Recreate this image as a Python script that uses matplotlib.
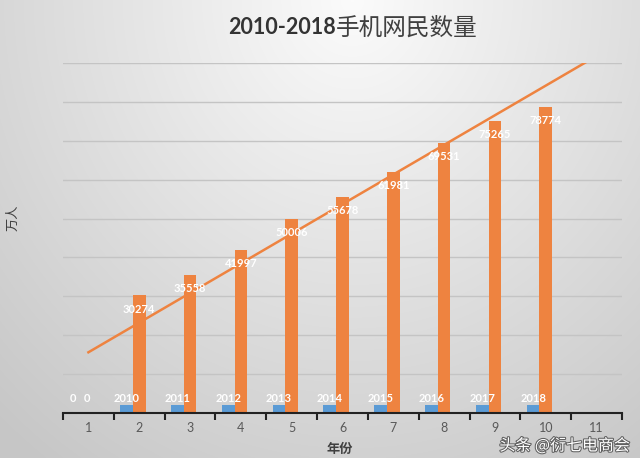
import numpy as np
import matplotlib
matplotlib.use('Agg')
import matplotlib.pyplot as plt
import matplotlib.patheffects as pe

plt.rcParams['font.family'] = ['Lato', 'Noto Sans CJK SC', 'DejaVu Sans']

# data
categories = [1, 2, 3, 4, 5, 6, 7, 8, 9, 10, 11]
years = [0, 2010, 2011, 2012, 2013, 2014, 2015, 2016, 2017, 2018]
users = [0, 30274, 35558, 41997, 50006, 55678, 61981, 69531, 75265, 78774]

blue = '#5B9BD5'
orange = '#EE8340'

fig = plt.figure(figsize=(6.4, 4.58), dpi=100)

# gradient background
h, w = 458, 640
yy, xx = np.mgrid[0:h, 0:w]
r = np.sqrt(((xx / w - 0.55) / 0.75) ** 2 + ((yy / h) / 1.15) ** 2)
val = np.clip(0.985 - 0.19 * r, 0.78, 1.0)
bg = fig.add_axes([0, 0, 1, 1], zorder=-10)
bg.imshow(np.dstack([val, val, val]), extent=[0, 1, 0, 1], aspect='auto')
bg.axis('off')

ax = fig.add_axes([63 / 640, 45.3 / 458, 559 / 640, 349.4 / 458])
ax.set_facecolor('none')

x = np.arange(1, len(years) + 1)
bw = 0.25
ax.bar(x - bw, years, width=bw, color=blue, zorder=3)
ax.bar(x, users, width=bw, color=orange, zorder=3)

# linear trend line of the users series
k, b = np.polyfit(x, users, 1)
xt = np.array([1, 11])
ax.plot(xt, k * xt + b, color=orange, lw=1.8, zorder=4)

lab = dict(color='white', fontsize=8, fontweight='bold', ha='center', va='center',
           textcoords='offset points', zorder=5)
for xi, v in zip(x, years):
    if v == 0:
        ax.annotate(str(v), (xi - bw - 0.05, 0), xytext=(0, 10.3), **lab)
    else:
        ax.annotate(str(v), (xi - bw, v), xytext=(0, 4.8), **lab)
for xi, v in zip(x, users):
    if v == 0:
        ax.annotate(str(v), (xi - 0.02, 0), xytext=(0, 10.3), **lab)
    else:
        ax.annotate(str(v), (xi, v), xytext=(0, -10), **lab)

ax.set_xlim(0.5, len(categories) + 0.5)
ax.set_ylim(0, 90000)
ax.set_yticks(np.arange(10000, 90001, 10000))
ax.yaxis.grid(True, color='#c4c4c4', lw=1)
ax.set_axisbelow(True)
ax.tick_params(axis='y', length=0, labelleft=False)
for s in ['left', 'right', 'top']:
    ax.spines[s].set_visible(False)
ax.spines['bottom'].set_color('#222222')
ax.spines['bottom'].set_linewidth(1.5)
ax.spines['bottom'].set_zorder(6)

ax.set_xticks(categories)
ax.set_xticklabels([str(c) for c in categories], fontsize=9, color='#595959')
ax.set_xticks(np.arange(0.5, len(categories) + 1), minor=True)
ax.tick_params(axis='x', which='major', length=0, pad=7)
ax.tick_params(axis='x', which='minor', length=5, width=1.5, color='#222222', direction='out')

ax.set_xlabel('年份', fontsize=9.5, fontweight='bold', color='#404040', labelpad=1)
ax.xaxis.set_label_coords((340 - 63) / 559, -(443 - 412.7) / 349.4)

fig.text(12 / 640, 1 - 218 / 458, '万人', rotation=90, fontsize=9.5, color='#404040',
         ha='center', va='center')

t1 = fig.text(228 / 640, 1 - 28 / 458, '2010-2018', fontsize=15.5, fontweight='bold',
              color='#333333', ha='left', va='center', family='Lato')
fig.canvas.draw()
bb = t1.get_window_extent()
fig.text(bb.x1 / 640, 1 - 28 / 458, '手机网民数量', fontsize=17, color='#404040',
         ha='left', va='center', family='Noto Sans CJK SC')

# watermark, nudged down a little so it clears the tick labels
fig.text(630 / 640, 1 - 446 / 458, '头条 @衍七电商会', fontsize=11.5, color='white',
         ha='right', va='center', family=['Noto Sans CJK SC', 'DejaVu Sans'],
         path_effects=[pe.withStroke(linewidth=1.5, foreground='#606060')])

plt.savefig('out.png', dpi=100)
